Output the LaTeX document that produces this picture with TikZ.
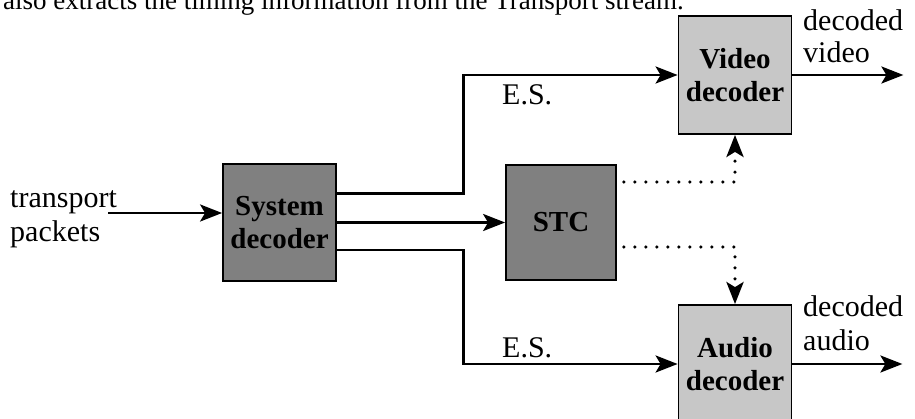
\documentclass[tikz,border=0pt]{standalone}
\usepackage{fontspec}
\setmainfont{Liberation Serif}
\usetikzlibrary{arrows.meta}
\definecolor{darkfill}{gray}{0.50}
\definecolor{lightfill}{gray}{0.78}
\begin{document}
\begin{tikzpicture}[x=1pt,y=-1pt,
  lbl/.style={font=\fontsize{30}{34}\selectfont, inner sep=0pt, anchor=base west},
  block/.style={draw=black, line width=1.8pt, minimum width=113pt, minimum height=117pt,
    inner sep=0pt, align=center, font=\fontsize{29}{33}\selectfont\bfseries},
  darkblock/.style={block, fill=darkfill},
  lightblock/.style={block, fill=lightfill},
  tip/.style={-{Stealth[length=22pt,width=17pt,inset=5pt]}},
  arr/.style={line width=2.8pt, tip},
  dotarr/.style={line width=3.6pt, line cap=round, dash pattern=on 0pt off 11pt, tip}
]
\useasboundingbox (0,0) rectangle (915,419);

% running text of the page above the figure
\node[anchor=base west, inner sep=0pt, font=\fontsize{27}{32}\selectfont] (caption) at (3,10)
  {also extracts the timing information from the Transport stream.};

% blocks
\node[darkblock] (sys) at (279.5,222.5) {System\\decoder};
\node[darkblock, minimum width=110pt, minimum height=115pt] (stc) at (561,222.5) {STC};
\node[lightblock, minimum height=118pt] (vid) at (735,75) {Video\\decoder};
\node[lightblock, minimum height=118pt] (aud) at (735,364) {Audio\\decoder};

% input
\coordinate (src) at (108,213);
\draw[arr] (src) -- (src -| sys.west);

% elementary streams and clock path
\draw[arr] ([yshift=29pt]sys.east) -- ++(126.5,0) |- (vid.west);
\draw[arr] (sys.east) -- (stc.west);
\draw[arr] ([yshift=-27.5pt]sys.east) -- ++(126.5,0) |- (aud.west);

% timing to the decoders
\draw[dotarr] ([xshift=7pt,yshift=40.5pt]stc.east) -| (vid.south);
\draw[dotarr] ([xshift=7pt,yshift=-24.5pt]stc.east) -| (aud.north);

% outputs
\draw[arr] (vid.east) -- ++(111,0);
\draw[arr] (aud.east) -- ++(110,0);

% labels
\node[lbl] (tr1) at (10,208) {transport};
\node[lbl] (tr2) at (10,242) {packets};
\node[lbl] (es1) at (502,105) {E.S.};
\node[lbl] (es2) at (502,357) {E.S.};
\node[lbl] (dv1) at (803,31) {decoded};
\node[lbl] (dv2) at (803,63) {video};
\node[lbl] (da1) at (803,317) {decoded};
\node[lbl] (da2) at (803,350) {audio};
\end{tikzpicture}
\end{document}
